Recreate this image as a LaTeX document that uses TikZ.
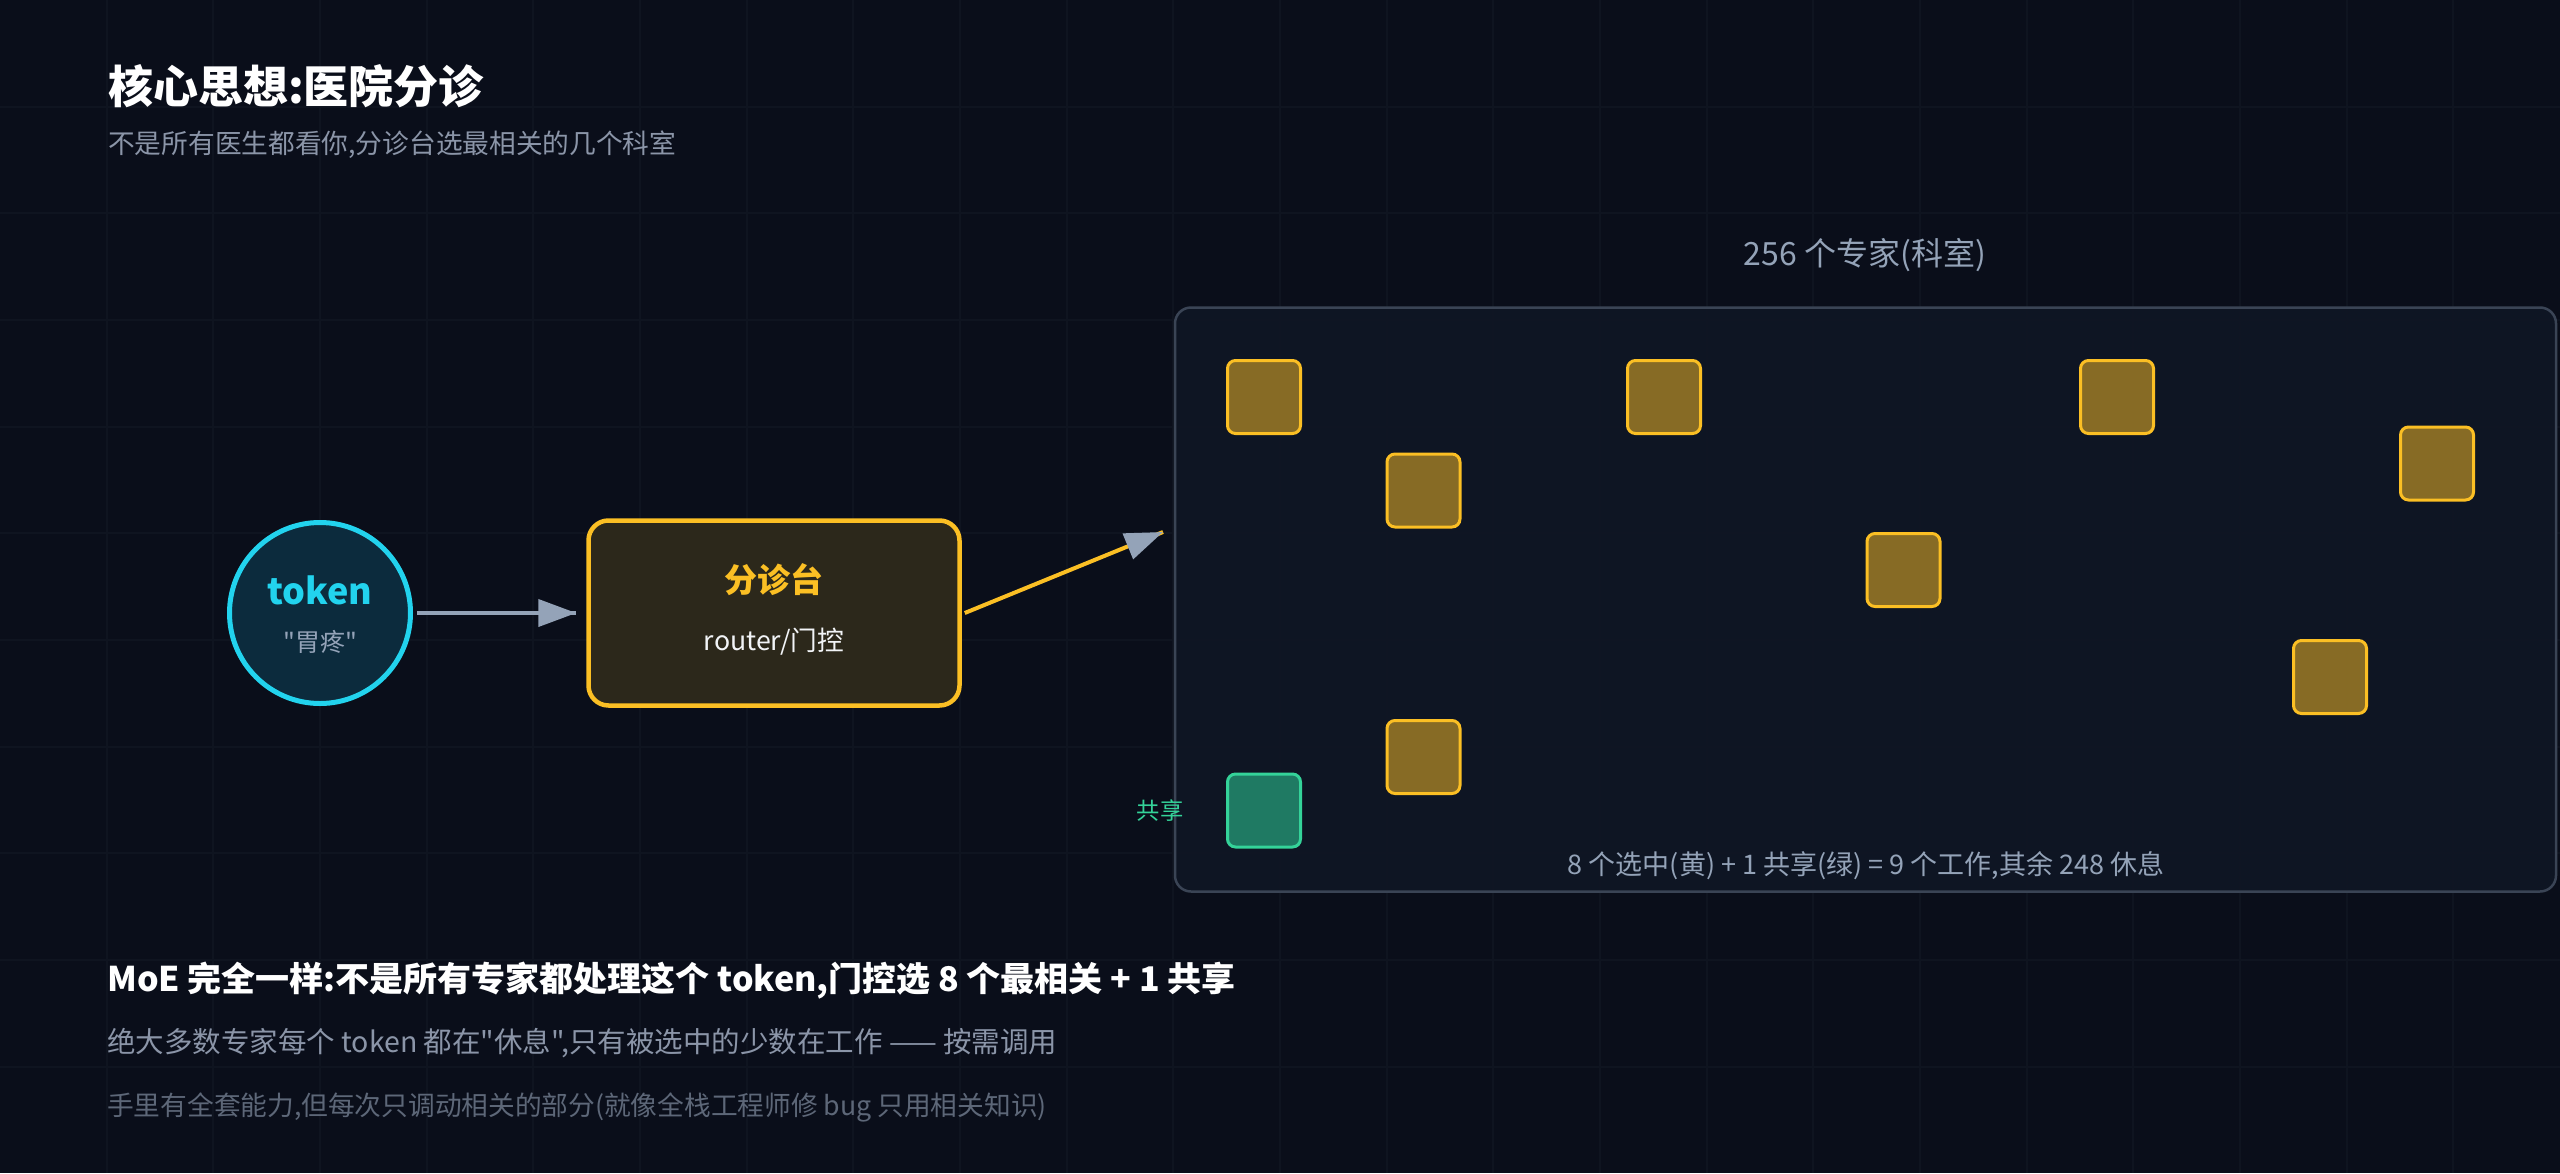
\documentclass[tikz,border=0pt]{standalone}
\usepackage{fontspec}
\setmainfont{Noto Sans CJK SC}[Ligatures=TeXOff]
\usetikzlibrary{calc,arrows.meta,decorations.markings}
\definecolor{bg}{HTML}{0A0E1A}
\definecolor{gridc}{HTML}{0F1420}
\definecolor{slate}{HTML}{94A3B8}
\definecolor{dimtext}{HTML}{8B95A8}
\definecolor{faint}{HTML}{5D6778}
\definecolor{cyanc}{HTML}{22D3EE}
\definecolor{tokfill}{HTML}{0C2B3D}
\definecolor{amber}{HTML}{FBBF24}
\definecolor{amberfill}{HTML}{876B25}
\definecolor{routerfill}{HTML}{2C281B}
\definecolor{mint}{HTML}{34D399}
\definecolor{mintfill}{HTML}{1F7A63}
\definecolor{panelfill}{HTML}{0F1624}
\definecolor{panelline}{HTML}{3A4455}
\newcommand\fsz[1]{\fontsize{#1}{#1}\selectfont}
\tikzset{tipped/.style = {decoration={markings, mark=at position 1 with {\arrow[slate]{Triangle[length=38pt,width=27pt]}}}, postaction={decorate}}}
\tikzset{expert/.style = {draw=amber, fill=amberfill, line width=3pt, rounded corners=8pt, minimum size=73pt, inner sep=0pt},
         shared/.style = {expert, draw=mint, fill=mintfill},
         txt/.style = {inner sep=0pt, anchor=west}}

\begin{document}
\begin{tikzpicture}[x=1pt, y=-1pt]
\fill[bg] (0,0) rectangle (2560,1173);
\useasboundingbox (0,0) rectangle (2560,1173);
\foreach \i in {1,...,23} \draw[gridc, line width=2pt] (\i*106.667,0) -- (\i*106.667,1173);
\foreach \j in {1,...,10} \draw[gridc, line width=2pt] (0,\j*106.667) -- (2560,\j*106.667);

\node[txt, white, font=\fsz{45}\bfseries] (title) at (108,86) {核心思想:医院分诊};
\node[txt, dimtext, font=\fsz{26.7}] (sub) at (108,145) {不是所有医生都看你,分诊台选最相关的几个科室};

\node[circle, draw=cyanc, fill=tokfill, line width=5pt, minimum size=181pt] (token) at (320,613) {};
\node[cyanc, font=\fsz{36}\bfseries] (tokword) at (320,590) {token};
\node[slate, font=\fsz{25}] (tokmeaning) at (320,642) {"胃疼"};

\node[draw=amber, fill=routerfill, line width=4.5pt, rounded corners=20pt, minimum width=371pt, minimum height=185pt] (router) at (774,613) {};
\node[amber, font=\fsz{33}\bfseries] (routername) at (774,580) {分诊台};
\node[white!88!slate, font=\fsz{26.7}] (routerrole) at (774,642) {router/门控};

\draw[slate, line width=4pt, tipped] ($(token.east)+(4,0)$) -- ($(router.west)-(10,0)$);

\node[draw=panelline, fill=panelfill, fill opacity=0.93, line width=2.5pt, rounded corners=16pt, minimum width=1381pt, minimum height=584pt] (panel) at (1865.5,599.5) {};
\node[slate, font=\fsz{32}] (paneltitle) at (1865,255) {256 个专家(科室)};
\coordinate (entry) at (1163,532);
\draw[amber, line width=4pt, tipped] ($(router.east)+(3,0)$) -- (entry);

\node[expert] (e1) at (1264,397) {};
\node[expert] (e2) at (1423.5,490.5) {};
\node[expert] (e3) at (1664,397) {};
\node[expert] (e4) at (2117,397) {};
\node[expert] (e5) at (2437,463.5) {};
\node[expert] (e6) at (1903.5,570) {};
\node[expert] (e7) at (2330,677) {};
\node[expert] (e8) at (1423.5,757) {};
\node[shared] (s1) at (1264,810.5) {};
\node[mint, font=\fsz{23.3}] (sharedlabel) at (1160,811) {共享};
\node[slate, font=\fsz{27}] (tally) at (1866,866) {8 个选中(黄) + 1 共享(绿) = 9 个工作,其余 248 休息};

\node[txt, white, font=\fsz{34}\bfseries] (moe) at (107,981) {MoE 完全一样:不是所有专家都处理这个 token,门控选 8 个最相关 + 1 共享};
\node[txt, dimtext, font=\fsz{28.5}] (rest) at (107,1043) {绝大多数专家每个 token 都在"休息",只有被选中的少数在工作 —— 按需调用};
\node[txt, faint, font=\fsz{26.7}] (analogy) at (107,1107) {手里有全套能力,但每次只调动相关的部分(就像全栈工程师修 bug 只用相关知识)};
\end{tikzpicture}
\end{document}
